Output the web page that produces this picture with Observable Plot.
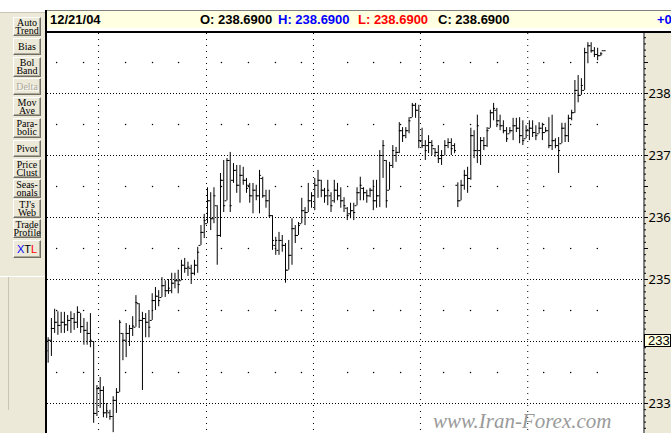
<!DOCTYPE html>
<html><head><meta charset="utf-8">
<script src="https://cdn.jsdelivr.net/npm/d3@7"></script>
<script src="https://cdn.jsdelivr.net/npm/@observablehq/plot@0.6"></script>
<style>
html,body{margin:0;padding:0;}
body{width:671px;height:433px;overflow:hidden;position:relative;background:#fff;font-family:"Liberation Sans",Arial,sans-serif;}
.abs{position:absolute;}
#toolbar{left:0;top:12px;width:45px;height:421px;background:#ece9d8;box-sizing:border-box;border-top:1px solid #c9c5b2;}
.btn{position:absolute;left:13px;width:28px;box-sizing:border-box;background:#ece9d8;border:1px solid;border-color:#fff #716f64 #716f64 #fff;box-shadow:inset -1px -1px 0 #aca899;font-family:"Liberation Serif","DejaVu Serif",serif;font-size:10px;line-height:8px;text-align:center;color:#000;display:flex;align-items:center;justify-content:center;white-space:pre;}
.btn.dis{color:#aca899;text-shadow:1px 1px 0 #fff;}
#header{left:47px;top:10px;width:624px;height:18px;background:#ffffe1;border-top:1px solid #808080;box-sizing:border-box;font-weight:bold;font-size:13px;}
#header span{position:absolute;top:1px;white-space:nowrap;}
#plotbg{left:47px;top:33px;width:596px;height:400px;background:#fff;}
#axisbg{left:643px;top:33px;width:28px;height:400px;background:#ece9d8;border-left:2px solid #808080;box-sizing:border-box;}
#chart{left:47px;top:33px;}
#marker{left:644px;width:27px;height:13px;box-sizing:border-box;border:1px solid #000;background:#ffffe1;font-size:13px;line-height:11px;padding-left:3px;}
#wm{left:433px;top:409px;font-family:"Liberation Serif","DejaVu Serif",serif;font-style:italic;font-size:21px;color:#9a9a9a;white-space:nowrap;}
</style>
</head><body>
<div id="toolbar" class="abs"></div>
<div class="abs" style="left:0;top:276px;width:45px;height:1px;background:#fff;"></div>
<div class="abs" style="left:8px;top:277px;width:1px;height:133px;background:#c9c5b2;"></div>
<div id="header" class="abs"></div>
<div class="abs" style="left:45px;top:31px;width:626px;height:2px;background:#000;"></div>
<div class="abs" style="left:45px;top:10px;width:2px;height:423px;background:#000;"></div>
<div id="plotbg" class="abs"></div>
<div id="axisbg" class="abs"></div>
<div id="chart" class="abs"></div>
<div id="wm" class="abs">www.Iran-Forex.com</div>
<script>
// ---- data (daily OHLC bars) ----
const highs = [234.06,234.37,234.52,234.48,234.47,234.47,234.42,234.48,234.45,234.56,234.45,234.37,234.31,234.45,234.00,233.29,233.42,233.27,233.00,232.89,233.11,233.24,234.34,234.13,234.29,234.26,234.40,234.74,234.61,234.47,234.45,234.50,234.77,234.87,234.82,235.03,234.98,235.00,235.10,235.10,235.15,235.31,235.34,235.28,235.23,235.31,235.52,235.87,236.05,236.48,236.40,236.48,236.19,236.71,236.92,236.95,237.05,236.87,236.84,236.84,236.81,236.63,236.55,236.55,236.52,236.76,236.65,236.44,236.44,236.03,235.68,235.76,235.71,235.58,235.63,235.98,235.87,235.92,236.31,236.16,236.55,236.40,236.63,236.76,236.60,236.47,236.60,236.40,236.60,236.55,236.48,236.32,236.16,236.23,236.23,236.48,236.65,236.48,236.44,236.47,236.60,236.60,237.08,237.24,236.92,236.89,237.16,237.13,237.53,237.45,237.45,237.61,237.84,237.84,237.81,237.44,237.24,237.32,237.24,237.11,237.16,237.08,237.24,237.27,237.27,237.19,236.56,236.60,236.76,236.81,237.44,237.40,237.65,237.29,237.29,237.45,237.73,237.84,237.76,237.65,237.56,237.45,237.45,237.60,237.60,237.61,237.56,237.48,237.56,237.56,237.48,237.53,237.52,237.45,237.61,237.65,237.27,237.29,237.52,237.52,237.65,237.73,238.21,238.29,238.24,238.73,238.82,238.82,238.74,238.73,238.66,238.69];
const lows = [233.65,233.76,234.13,234.10,234.13,234.13,234.16,234.13,234.18,234.21,234.13,233.94,233.94,233.90,232.68,232.79,232.92,232.77,232.76,232.73,232.53,232.84,233.18,233.69,233.74,233.92,234.08,234.23,234.21,233.21,234.06,234.06,234.34,234.50,234.56,234.71,234.71,234.76,234.77,234.85,234.77,234.98,235.10,235.05,234.92,235.06,235.10,235.55,235.66,235.90,235.79,235.90,235.23,235.68,236.08,236.27,236.08,236.55,236.39,236.23,236.52,236.39,236.23,236.06,236.27,236.06,236.31,236.15,236.00,235.47,235.39,235.39,235.44,234.94,235.15,235.23,235.58,235.71,235.90,235.87,236.08,236.15,236.11,236.31,236.32,236.23,236.19,236.08,236.23,236.27,236.15,236.08,235.95,235.98,235.95,236.19,236.27,236.27,236.23,236.32,236.11,236.15,236.16,236.63,236.15,236.44,236.79,236.89,237.03,237.21,237.27,237.35,237.61,237.60,237.11,237.11,236.92,237.03,237.00,236.97,236.87,236.84,237.00,237.11,237.00,237.03,236.16,236.27,236.44,236.39,236.60,236.95,236.87,236.84,237.08,237.13,237.44,237.56,237.45,237.40,237.35,237.21,237.35,237.24,237.37,237.19,237.16,237.27,237.24,237.29,237.24,237.35,237.24,237.37,237.11,237.08,237.11,236.71,237.19,237.21,237.21,237.56,237.68,237.85,237.97,238.05,238.48,238.65,238.58,238.53,238.60,238.69];
const opens = [233.85,234.02,234.21,234.31,234.26,234.31,234.27,234.34,234.37,234.31,234.47,234.24,234.18,234.13,234.00,232.84,233.24,233.21,232.85,232.85,232.79,233.05,233.18,234.13,234.02,234.13,234.21,234.23,234.61,234.34,234.37,234.31,234.34,234.66,234.73,234.71,234.90,234.82,234.82,234.94,234.98,234.98,235.23,235.18,235.18,235.10,235.23,235.55,235.76,235.90,236.27,235.98,236.19,235.71,236.60,236.27,236.92,236.60,236.76,236.52,236.68,236.60,236.52,236.35,236.44,236.35,236.63,236.35,236.27,236.03,235.55,235.47,235.63,235.55,235.15,235.39,235.82,235.71,235.90,236.11,236.08,236.27,236.35,236.52,236.60,236.44,236.35,236.35,236.27,236.44,236.35,236.27,236.15,236.06,236.11,236.19,236.40,236.47,236.40,236.35,236.44,236.27,236.35,237.00,236.92,236.44,236.84,237.00,237.05,237.40,237.32,237.40,237.61,237.81,237.73,237.24,237.16,237.16,237.21,237.11,237.05,236.95,237.00,237.16,237.21,237.16,236.52,236.27,236.52,236.68,236.63,237.32,237.08,237.08,237.24,237.16,237.44,237.69,237.73,237.56,237.48,237.40,237.35,237.40,237.48,237.44,237.32,237.27,237.40,237.44,237.37,237.35,237.44,237.37,237.40,237.16,237.24,237.16,237.19,237.44,237.32,237.60,237.69,238.05,237.97,238.05,238.66,238.77,238.69,238.63,238.61,238.69];
const closes = [234.02,234.21,234.31,234.26,234.31,234.27,234.34,234.37,234.31,234.47,234.24,234.18,234.13,234.02,232.84,233.24,233.21,232.85,232.88,232.79,233.05,233.18,234.31,234.02,234.13,234.21,234.25,234.63,234.34,234.37,234.31,234.23,234.66,234.73,234.66,234.90,234.82,234.86,234.94,234.98,234.92,235.23,235.18,235.20,235.10,235.23,235.44,235.76,235.95,236.27,235.98,236.35,235.71,236.60,236.19,236.92,236.19,236.76,236.52,236.68,236.60,236.47,236.35,236.44,236.35,236.68,236.35,236.27,236.03,235.63,235.63,235.63,235.55,235.15,235.39,235.82,235.71,235.87,236.11,236.08,236.27,236.35,236.52,236.60,236.44,236.35,236.44,236.19,236.44,236.35,236.27,236.19,236.03,236.11,236.08,236.40,236.52,236.40,236.35,236.44,236.27,236.35,237.00,237.16,236.27,236.84,237.08,237.05,237.40,237.32,237.40,237.56,237.81,237.73,237.24,237.16,237.08,237.21,237.16,237.05,236.95,237.00,237.16,237.21,237.11,237.08,236.27,236.52,236.68,236.63,237.32,237.08,237.48,237.24,237.16,237.40,237.69,237.76,237.56,237.48,237.40,237.27,237.40,237.48,237.44,237.32,237.24,237.40,237.44,237.37,237.32,237.44,237.37,237.40,237.16,237.24,237.16,237.08,237.44,237.32,237.60,237.69,238.05,237.97,238.13,238.66,238.77,238.69,238.63,238.61,238.64,238.69];

// grid: bar-index positions of the month lines and week dots; price levels
const monthGrid = [15.5,48.7,81.6,114.5,147.5];
const weekGrid = [2.6,10.9,23.8,32.1,40.1,53.3,61.6,69.9,77.9,92.1,100.1,108.4,121.6,129.9,138.2,152.4,160.7,168.9];
const priceGrid = [233,234,235,236,237,238];
const halfGrid = [233.5,234.5,235.5,236.5,237.5,238.5];
const axisValues = [238,237,236,235,233];
const axisLabels = ["238","237","236","235","233"];
const markerValue = 234, markerLabel = "233";

const headerDate = "12/21/04";
const headerO = "238.6900", headerH = "238.6900", headerL = "238.6900", headerC = "238.6900";
const headerChange = "+0.0000";

const buttons = ["Auto\nTrend","Bias","Bol\nBand","Delta","Mov\nAve","Para-\nbolic","Pivot","Price\nClust","Seas-\nonals","TJ's\nWeb","Trade\nProfile","XTL"];
const btnTops = [17,38,57,78,97,118,140,159,179,199,219,240];
const btnHeights = [19,17,20,17,19,20,17,19,19,19,19,18];

// ---- toolbar ----
buttons.forEach((b,k)=>{
  const d = document.createElement("div");
  d.className = "btn" + (b==="Delta" ? " dis" : "");
  d.style.top = btnTops[k]+"px";
  d.style.height = btnHeights[k]+"px";
  if (b==="XTL") {
    d.style.fontFamily = "'Liberation Sans',Arial,sans-serif";
    d.style.fontSize = "11px";
    d.innerHTML = '<span style="color:#0000ff">X</span><span>T</span><span style="color:#ff0000">L</span>';
  } else d.textContent = b;
  document.body.appendChild(d);
});

// ---- header ----
const hd = document.getElementById("header");
[
  [3, headerDate, "#000"],
  [153, "O: " + headerO, "#000"],
  [231, "H: " + headerH, "#0000ff"],
  [311, "L: " + headerL, "#ff0000"],
  [391, "C: " + headerC, "#000"],
  [610, headerChange, "#0000ff"]
].forEach(([x,t,c])=>{
  const s = document.createElement("span");
  s.style.left = x+"px"; s.style.color = c; s.textContent = t;
  hd.appendChild(s);
});

// ---- chart ----
const bars = highs.map((h,i)=>({i, high:h, low:lows[i], open:opens[i], close:closes[i]}));
const dots = weekGrid.flatMap(x => halfGrid.map(y => ({x, y})));
const minorTicks = d3.ticks(232.5, 239, 65);
const halfTicks = d3.ticks(232.5, 239, 13);

const chart = Plot.plot({
  width: 624, height: 400,
  marginLeft: 0, marginRight: 28, marginTop: 0, marginBottom: 0,
  style: {background: "transparent", overflow: "visible"},
  x: {domain: [-0.2, 183.1], axis: null},
  y: {domain: [232.516, 238.968], axis: null},
  marks: [
    Plot.ruleY(priceGrid, {stroke: "#000", strokeDasharray: "1,2"}),
    Plot.ruleX(monthGrid, {stroke: "#000", strokeDasharray: "1,5"}),
    Plot.dot(dots, {x: "x", y: "y", r: 0.75, fill: "#000", stroke: null}),
    Plot.ruleX(bars, {x: "i", y1: "low", y2: "high", stroke: "#000", strokeWidth: 1}),
    Plot.ruleY(bars, {y: "open", x1: d => d.i - 0.6, x2: "i", stroke: "#000"}),
    Plot.ruleY(bars, {y: "close", x1: "i", x2: d => d.i + 0.6, stroke: "#000"}),
    Plot.axisY(minorTicks, {anchor: "right", tickSize: 2, fill: "none", stroke: "#000"}),
    Plot.axisY(halfTicks, {anchor: "right", tickSize: 4, fill: "none", stroke: "#000"}),
    Plot.axisY(axisValues, {anchor: "right", tickSize: 4, tickPadding: 1, stroke: "#000", fill: "#000",
      fontSize: 13, tickFormat: d => axisLabels[axisValues.indexOf(d)]})
  ]
});
document.getElementById("chart").appendChild(chart);

// current-price box, placed through the y scale
const yy = chart.scale("y").apply(markerValue);
const mk = document.createElement("div");
mk.id = "marker"; mk.className = "abs";
mk.style.top = (33 + yy - 6.5) + "px";
mk.textContent = markerLabel;
document.body.appendChild(mk);
</script>
</body></html>
